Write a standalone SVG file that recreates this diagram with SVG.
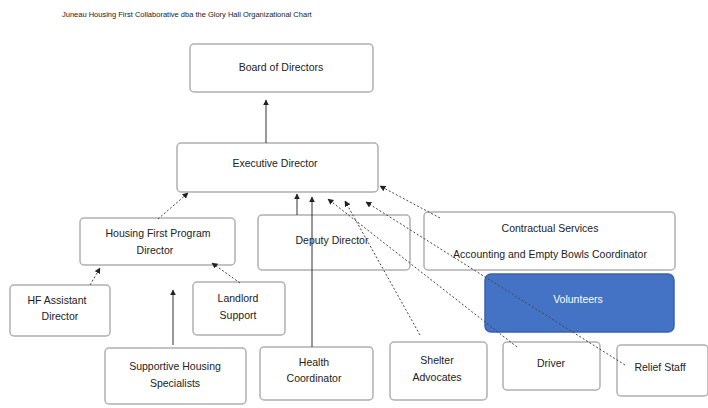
<svg xmlns="http://www.w3.org/2000/svg" width="708" height="408" viewBox="0 0 708 408">
<defs>
<marker id="ah" viewBox="0 0 10 10" refX="9" refY="5" markerWidth="6" markerHeight="6" orient="auto-start-reverse"><path d="M0,0 L10,5 L0,10 z" fill="#222"/></marker>
<style>
.box{fill:#fff;stroke:#b0b0b0;stroke-width:1.5}
.blue{fill:#4472c4;stroke:#3a62a8;stroke-width:1.5}
.t{font-family:"Liberation Sans",Arial,sans-serif;font-size:10.5px;fill:#222;text-anchor:middle}
.tw{font-family:"Liberation Sans",Arial,sans-serif;font-size:10.5px;fill:#fff;text-anchor:middle}
.title{font-family:"Liberation Sans",Arial,sans-serif;font-size:7.5px;fill:#222}
.c{stroke:#333;stroke-width:1;fill:none}
.d{stroke:#444;stroke-width:1;fill:none;stroke-dasharray:2 2}
</style>
</defs>
<rect width="708" height="408" fill="#fff"/>
<text class="title" x="62" y="17">Juneau Housing First Collaborative dba the Glory Hall Organizational Chart</text>

<g id="board"><rect class="box" x="190" y="44" width="183" height="48" rx="4"/><text class="t" x="281" y="71">Board of Directors</text></g>
<g id="exec"><rect class="box" x="177" y="143" width="201" height="49" rx="4"/><text class="t" x="275" y="167">Executive Director</text></g>
<g id="hfpd"><rect class="box" x="80" y="218" width="155" height="47" rx="4"/><text class="t" x="158" y="237">Housing First Program</text><text class="t" x="155" y="254">Director</text></g>
<g id="deputy"><rect class="box" x="258" y="215" width="152" height="55" rx="4"/><text class="t" x="332" y="244">Deputy Director</text></g>
<g id="contract"><rect class="box" x="424" y="212" width="251" height="58" rx="4"/><text class="t" x="550" y="232">Contractual Services</text><text class="t" x="550" y="258">Accounting and Empty Bowls Coordinator</text></g>
<g id="volunteers"><rect class="blue" x="485" y="274" width="189" height="58" rx="6"/><text class="tw" x="578" y="303">Volunteers</text></g>
<g id="hfad"><rect class="box" x="10" y="285" width="100" height="51" rx="4"/><text class="t" x="57" y="304">HF Assistant</text><text class="t" x="60" y="320">Director</text></g>
<g id="landlord"><rect class="box" x="193" y="282" width="92" height="53" rx="4"/><text class="t" x="238" y="302">Landlord</text><text class="t" x="238" y="319">Support</text></g>
<g id="shs"><rect class="box" x="105" y="348" width="141" height="56" rx="4"/><text class="t" x="175" y="370">Supportive Housing</text><text class="t" x="175" y="387">Specialists</text></g>
<g id="health"><rect class="box" x="260" y="347" width="113" height="53" rx="4"/><text class="t" x="314" y="366">Health</text><text class="t" x="314" y="382">Coordinator</text></g>
<g id="shelter"><rect class="box" x="390" y="342" width="97" height="58" rx="4"/><text class="t" x="437" y="364">Shelter</text><text class="t" x="437" y="381">Advocates</text></g>
<g id="driver"><rect class="box" x="503" y="342" width="97" height="48" rx="4"/><text class="t" x="551" y="367">Driver</text></g>
<g id="relief"><rect class="box" x="617" y="345" width="91" height="51" rx="4"/><text class="t" x="660" y="371">Relief Staff</text></g>

<g id="connectors">
<line class="c" x1="266" y1="143" x2="266" y2="100" marker-end="url(#ah)"/>
<line class="d" x1="158" y1="219" x2="188" y2="193" marker-end="url(#ah)"/>
<line class="c" x1="297" y1="215" x2="297" y2="194" marker-end="url(#ah)"/>
<line class="c" x1="312" y1="347" x2="312" y2="197" marker-end="url(#ah)"/>
<line class="d" x1="517" y1="347" x2="328" y2="199" marker-end="url(#ah)"/>
<line class="d" x1="420" y1="335" x2="345" y2="201" marker-end="url(#ah)"/>
<line class="d" x1="625" y1="365" x2="366" y2="202" marker-end="url(#ah)"/>
<line class="d" x1="440" y1="218" x2="380" y2="186" marker-end="url(#ah)"/>
<line class="d" x1="90" y1="285" x2="100" y2="268" marker-end="url(#ah)"/>
<line class="c" x1="173" y1="345" x2="173" y2="290" marker-end="url(#ah)"/>
<line class="d" x1="240" y1="283" x2="212" y2="263" marker-end="url(#ah)"/>
</g>
</svg>
